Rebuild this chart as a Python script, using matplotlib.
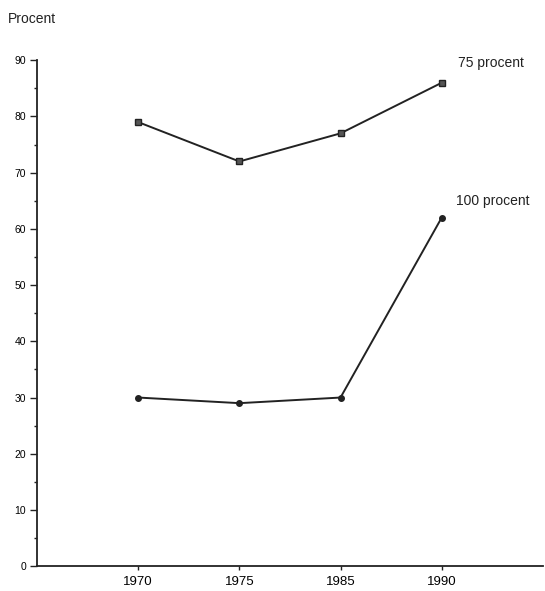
import matplotlib
matplotlib.use("Agg")
import matplotlib.pyplot as plt
from matplotlib.ticker import MultipleLocator

years = ["1970", "1975", "1985", "1990"]
procent_75 = [79, 72, 77, 86]
procent_100 = [30, 29, 30, 62]

plt.rcParams['font.family'] = ['Liberation Sans', 'DejaVu Sans']

fig = plt.figure(figsize=(5.45, 5.91), dpi=100)
ax = fig.add_axes([0.068, 0.042, 0.928, 0.856])

x = list(range(1, len(years) + 1))
col = "#222222"
ax.plot(x, procent_75, '-s', color=col, lw=1.4, ms=4.5, mfc="#555555", mec=col, mew=1)
ax.plot(x, procent_100, '-o', color=col, lw=1.4, ms=4, mfc=col, mec=col)

ax.set_xlim(0, 5)
ax.set_ylim(0, 90)
ax.set_xticks(x)
ax.set_xticklabels(years, fontsize=9.5)
ax.yaxis.set_major_locator(MultipleLocator(10))
ax.yaxis.set_minor_locator(MultipleLocator(5))
ax.tick_params(axis='y', which='major', labelsize=7.5, length=5, width=1, color=col, pad=3)
ax.tick_params(axis='y', which='minor', length=2.5, width=1, color=col)
ax.tick_params(axis='x', labelsize=9.5, length=3, width=1, color=col, pad=4)

for s in ['top', 'right']:
    ax.spines[s].set_visible(False)
for s in ['left', 'bottom']:
    ax.spines[s].set_linewidth(1.3)
    ax.spines[s].set_color(col)

ax.text(4.16, 89.5, "75 procent", fontsize=10, color=col, ha='left', va='center')
ax.text(4.14, 65, "100 procent", fontsize=10, color=col, ha='left', va='center')
fig.text(0.015, 0.968, "Procent", fontsize=10, color=col, ha='left', va='center')

fig.savefig("out.png", dpi=100)
